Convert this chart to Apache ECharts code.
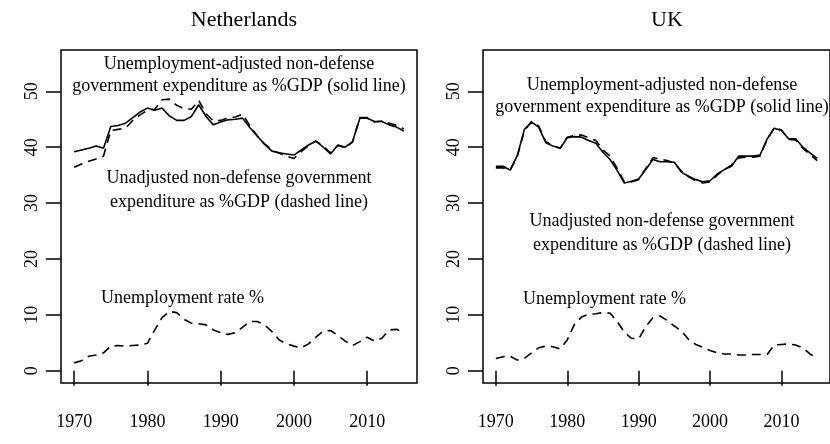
<!DOCTYPE html>
<html>
<head>
<meta charset="utf-8">
<script src="https://cdn.jsdelivr.net/npm/echarts@6/dist/echarts.min.js"></script>
<style>
  html, body { margin: 0; padding: 0; background: #fff; }
  #chart { width: 830px; height: 444px; }
</style>
</head>
<body>
<div id="chart"></div>
<script>
// yearly values, 1970-2015
const years = [1970, 1971, 1972, 1973, 1974, 1975, 1976, 1977, 1978, 1979,
  1980, 1981, 1982, 1983, 1984, 1985, 1986, 1987, 1988, 1989,
  1990, 1991, 1992, 1993, 1994, 1995, 1996, 1997, 1998, 1999,
  2000, 2001, 2002, 2003, 2004, 2005, 2006, 2007, 2008, 2009,
  2010, 2011, 2012, 2013, 2014, 2015]
const xTicks = [1970, 1980, 1990, 2000, 2010]
const yTicks = [0, 10, 20, 30, 40, 50]

// Netherlands
const nlAdjusted = [39.2, 39.5, 39.8, 40.2, 39.8, 43.7, 43.9, 44.3, 45.3, 46.3,
  47.0, 46.6, 47.0, 45.6, 44.8, 44.8, 45.5, 47.6, 45.5, 44.0,
  44.5, 44.9, 45.0, 45.2, 43.5, 42.0, 40.5, 39.3, 39.0, 38.8,
  38.6, 39.5, 40.4, 41.1, 40.0, 38.8, 40.4, 40.0, 41.0, 45.2,
  45.2, 44.6, 44.6, 44.0, 43.6, 42.9]
const nlUnadjusted = [36.4, 37.0, 37.5, 37.9, 38.4, 43.0, 43.2, 43.4, 44.8, 45.8,
  46.6, 46.8, 48.5, 48.6, 47.5, 46.9, 46.8, 48.4, 46.0, 44.7,
  44.8, 45.3, 45.4, 45.9, 43.8, 42.0, 40.6, 39.5, 38.9, 38.4,
  38.0, 39.2, 40.3, 41.1, 40.2, 39.0, 40.3, 39.9, 40.9, 45.3,
  45.3, 44.5, 44.7, 44.3, 43.9, 43.3]
const nlUnemployment = [1.4, 1.8, 2.6, 2.8, 3.2, 4.4, 4.5, 4.4, 4.5, 4.6,
  4.9, 7.3, 9.5, 10.6, 10.4, 9.2, 8.5, 8.4, 8.2, 7.3,
  6.8, 6.5, 6.8, 7.8, 8.8, 8.8, 8.2, 7.0, 5.5, 4.8,
  4.4, 4.1, 4.8, 6.0, 7.1, 7.2, 6.3, 5.3, 4.5, 5.2,
  6.0, 5.3, 5.8, 7.3, 7.4, 6.9]

// UK
const ukAdjusted = [36.6, 36.6, 35.9, 38.5, 43.2, 44.5, 43.6, 40.8, 40.2, 39.8,
  41.7, 41.9, 41.8, 41.2, 40.7, 39.1, 37.8, 35.8, 33.6, 33.9,
  34.3, 36.0, 37.8, 37.4, 37.4, 37.3, 35.5, 34.8, 34.2, 33.8,
  34.0, 35.2, 36.0, 36.6, 38.4, 38.4, 38.4, 38.6, 41.5, 43.4,
  43.0, 41.5, 41.5, 40.0, 39.0, 38.0]
const ukUnadjusted = [36.3, 36.3, 35.9, 38.3, 43.0, 44.6, 43.8, 41.0, 40.3, 39.8,
  41.8, 42.1, 42.2, 41.7, 41.2, 39.5, 38.4, 36.2, 33.8, 33.8,
  34.2, 36.2, 38.1, 37.9, 37.6, 37.2, 35.7, 34.7, 34.0, 33.6,
  33.8, 35.0, 36.0, 36.8, 38.1, 38.2, 38.2, 38.4, 41.4, 43.5,
  43.1, 41.4, 41.3, 39.8, 38.7, 37.6]
const ukUnemployment = [2.2, 2.5, 2.6, 1.9, 2.2, 3.2, 4.1, 4.4, 4.3, 3.9,
  5.5, 8.3, 9.6, 10.1, 10.2, 10.4, 10.3, 8.8, 6.9, 5.8,
  5.7, 7.9, 9.5, 9.8, 9.0, 8.0, 7.1, 5.6, 4.7, 4.2,
  3.6, 3.2, 3.0, 3.0, 2.8, 2.8, 2.9, 2.9, 2.9, 4.6,
  4.7, 4.8, 4.6, 4.1, 3.0, 2.3]

const serif = '"Liberation Serif", "DejaVu Serif", serif'
const dash = [9, 6]

function pairs(vals) {
  return years.map((y, i) => [y, vals[i]])
}

function makeX(idx) {
  return {
    type: 'value',
    gridIndex: idx,
    min: 1968.2,
    max: 2016.8,
    axisLine: { show: false },
    splitLine: { show: false },
    axisTick: {
      show: true,
      inside: false,
      length: 15,
      customValues: xTicks,
      lineStyle: { color: '#000', width: 1.5 },
    },
    axisLabel: {
      customValues: xTicks,
      formatter: v => String(v),
      margin: 30,
      color: '#000',
      fontFamily: serif,
      fontSize: 18,
    },
  }
}

function makeY(idx) {
  return {
    type: 'value',
    gridIndex: idx,
    min: -2.2,
    max: 57.4,
    axisLine: { show: false },
    splitLine: { show: false },
    axisTick: {
      show: true,
      inside: false,
      length: 15,
      customValues: yTicks,
      lineStyle: { color: '#000', width: 1.5 },
    },
    axisLabel: {
      customValues: yTicks,
      rotate: 90,
      margin: 20,
      color: '#000',
      fontFamily: serif,
      fontSize: 18,
    },
  }
}

function line(idx, vals, dashed) {
  return {
    type: 'line',
    xAxisIndex: idx,
    yAxisIndex: idx,
    data: pairs(vals),
    showSymbol: false,
    silent: true,
    lineStyle: { color: '#000', width: 1.6, type: dashed ? dash : 'solid' },
  }
}

function label(x, y, text, align) {
  return {
    type: 'text',
    x: x,
    y: y,
    style: {
      text: text,
      fill: '#000',
      font: '18px ' + serif,
      textAlign: align || 'center',
      textVerticalAlign: 'middle',
    },
  }
}

const chart = echarts.init(document.getElementById('chart'))
chart.setOption({
  animation: false,
  backgroundColor: '#fff',
  title: [
    { text: 'Netherlands', left: 239, top: 4, textAlign: 'center',
      textStyle: { fontFamily: serif, fontWeight: 'normal', fontSize: 22, color: '#000' } },
    { text: 'UK', left: 662, top: 4, textAlign: 'center',
      textStyle: { fontFamily: serif, fontWeight: 'normal', fontSize: 22, color: '#000' } },
  ],
  grid: [
    { left: 61, top: 50, width: 356, height: 333, show: true,
      borderColor: '#000', borderWidth: 1.5, backgroundColor: 'transparent' },
    { left: 483, top: 50, width: 356, height: 333, show: true,
      borderColor: '#000', borderWidth: 1.5, backgroundColor: 'transparent' },
  ],
  xAxis: [makeX(0), makeX(1)],
  yAxis: [makeY(0), makeY(1)],
  series: [
    line(0, nlAdjusted, false),
    line(0, nlUnadjusted, true),
    line(0, nlUnemployment, true),
    line(1, ukAdjusted, false),
    line(1, ukUnadjusted, true),
    line(1, ukUnemployment, true),
  ],
  graphic: [
    label(239, 64, 'Unemployment-adjusted non-defense'),
    label(239, 86, 'government expenditure as %GDP (solid line)'),
    label(239, 178, 'Unadjusted non-defense government'),
    label(239, 202, 'expenditure as %GDP (dashed line)'),
    label(101, 298, 'Unemployment rate %', 'left'),
    label(662, 85, 'Unemployment-adjusted non-defense'),
    label(662, 107, 'government expenditure as %GDP (solid line)'),
    label(662, 221, 'Unadjusted non-defense government'),
    label(662, 245, 'expenditure as %GDP (dashed line)'),
    label(523, 299, 'Unemployment rate %', 'left'),
  ],
})
</script>
</body>
</html>
